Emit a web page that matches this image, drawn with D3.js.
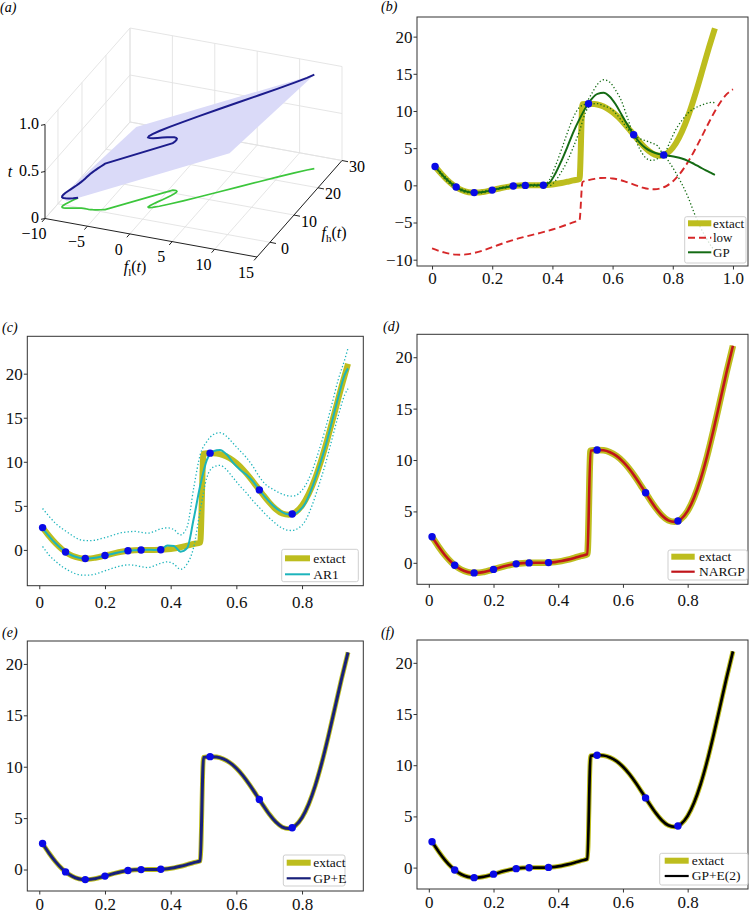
<!DOCTYPE html>
<html><head><meta charset="utf-8">
<script src="https://cdn.jsdelivr.net/npm/d3@7"></script>
<style>body{margin:0;background:#fff}svg{display:block}</style>
</head><body>
<svg id="chart" width="756" height="914"></svg>
<script>
// ================= DATA =================
const exactX=[0.01,0.03,0.05,0.07,0.09,0.11,0.13,0.15,0.17,0.19,0.21,0.23,0.25,0.27,0.29,0.31,0.33,0.35,0.37,0.39,0.41,0.43,0.45,0.47,0.49,0.50,0.52,0.54,0.56,0.58,0.60,0.62,0.64,0.66,0.68,0.70,0.72,0.74,0.76,0.78,0.80,0.82,0.84,0.86,0.88,0.90,0.92,0.94];
const exactY=[2.533,1.583,0.738,0.046,-0.469,-0.800,-0.961,-0.978,-0.888,-0.731,-0.545,-0.364,-0.210,-0.100,-0.034,-0.005,0.000,0.002,0.021,0.073,0.168,0.308,0.483,0.671,0.842,10.909,10.984,10.945,10.757,10.396,9.851,9.130,8.264,7.302,6.318,5.394,4.631,4.130,3.984,4.273,5.051,6.350,8.136,10.367,12.940,15.712,18.506,21.122];

const lowX=[0,0.02,0.04,0.06,0.08,0.10,0.12,0.14,0.16,0.18,0.20,0.22,0.24,0.26,0.28,0.30,0.32,0.34,0.36,0.38,0.40,0.42,0.44,0.46,0.48,0.49,0.50,0.52,0.54,0.56,0.58,0.60,0.62,0.64,0.66,0.68,0.70,0.72,0.74,0.76,0.78,0.80,0.82,0.84,0.86,0.88,0.90,0.92,0.94,0.96,0.98,1.00];
const lowY=[-8.486,-8.775,-9.028,-9.214,-9.317,-9.329,-9.250,-9.092,-8.872,-8.608,-8.320,-8.026,-7.741,-7.475,-7.231,-7.008,-6.800,-6.600,-6.396,-6.179,-5.942,-5.683,-5.404,-5.111,-4.819,-4.679,0.455,0.692,0.873,0.979,0.998,0.925,0.765,0.532,0.251,-0.041,-0.303,-0.485,-0.535,-0.408,-0.064,0.525,1.375,2.468,3.784,5.270,6.856,8.453,9.961,11.278,12.294,12.915];
const highOnLowX=[3.027,2.049,1.144,0.371,-0.234,-0.657,-0.900,-0.984,-0.944,-0.816,-0.640,-0.452,-0.282,-0.149,-0.061,-0.016,-0.001,0.000,0.008,0.042,0.115,0.233,0.392,0.577,0.761,0.842,10.909,10.984,10.945,10.757,10.396,9.851,9.130,8.264,7.302,6.318,5.394,4.631,4.130,3.984,4.273,5.051,6.350,8.136,10.367,12.940,15.712,18.506,21.122,23.356,24.988,25.830];

const sampleX=[0.01,0.08,0.14,0.20,0.27,0.31,0.37,0.52,0.67,0.77];
const sampleY=[2.53,-0.23,-0.98,-0.64,-0.10,-0.01,0.02,10.98,6.81,4.07];

const gpX=[0.01,0.03,0.05,0.07,0.09,0.11,0.13,0.15,0.17,0.19,0.21,0.23,0.25,0.27,0.29,0.31,0.33,0.35,0.37,0.39,0.41,0.43,0.45,0.47,0.49,0.51,0.53,0.55,0.57,0.59,0.61,0.63,0.65,0.67,0.69,0.71,0.73,0.75,0.77,0.79,0.81,0.83,0.85,0.87,0.89,0.91,0.93,0.94];
const gpMean=[2.533,1.583,0.738,0.046,-0.469,-0.800,-0.961,-0.978,-0.888,-0.731,-0.545,-0.364,-0.210,-0.100,-0.034,-0.005,0.000,0.002,0.021,0.35,1.6,3.3,5.2,7.2,8.9,10.4,11.6,12.3,12.45,11.95,10.9,9.5,8.1,6.8,5.75,5.0,4.55,4.25,4.08,3.95,3.8,3.6,3.3,2.9,2.45,2.0,1.6,1.4];
const gpUpper=[2.6,1.75,0.95,0.25,-0.3,-0.65,-0.88,-0.9,-0.78,-0.62,-0.45,-0.27,-0.12,-0.03,0.04,0.05,0.1,0.12,0.06,0.75,2.6,4.8,7.1,9.2,10.5,11.0,12.3,13.6,14.2,13.9,12.8,11.3,9.0,6.9,6.3,6.0,5.7,5.3,4.2,5.8,7.5,8.7,9.7,10.3,10.7,11.0,11.15,11.1];
const gpLower=[2.47,1.4,0.52,-0.16,-0.64,-0.95,-1.04,-1.06,-1.0,-0.84,-0.64,-0.46,-0.3,-0.17,-0.11,-0.06,-0.1,-0.11,-0.02,-0.05,0.6,1.8,3.3,5.2,7.3,9.8,10.9,11.0,10.7,10.4,9.7,8.7,7.6,6.7,4.9,3.7,3.35,3.6,4.0,3.0,1.7,0.2,-1.5,-3.6,-5.5,-7.0,-8.3,-8.8];

const ar1Mean=[2.45,1.55,0.72,0.05,-0.45,-0.78,-0.95,-0.98,-0.9,-0.74,-0.56,-0.38,-0.22,-0.1,-0.03,0.0,0.02,0.0,0.05,0.5,0.45,-0.2,0.2,3.5,7.3,10.2,11.2,11.35,10.85,9.9,9.15,8.55,7.8,6.8,5.9,5.1,4.5,4.1,4.0,4.4,5.3,7.0,9.2,11.6,14.4,17.3,19.9,20.6];
const ar1Upper=[4.7,3.8,3.0,2.4,1.9,1.4,1.1,1.05,1.1,1.3,1.5,1.75,1.95,2.05,2.1,2.0,1.9,2.1,2.4,2.5,2.3,1.7,2.6,7.0,10.8,12.3,13.1,13.3,12.9,12.1,11.3,10.5,9.5,8.3,7.4,6.9,6.5,6.2,6.1,6.4,7.3,8.9,11.1,13.6,16.4,19.3,21.6,22.9];
const ar1Lower=[0.4,-0.6,-1.3,-1.9,-2.35,-2.7,-2.85,-2.85,-2.75,-2.5,-2.25,-2.0,-1.8,-1.7,-1.75,-1.9,-2.0,-1.8,-1.5,-1.35,-1.6,-2.2,-1.6,0.3,4.5,8.2,9.4,9.6,9.1,8.2,7.3,6.5,5.6,4.8,4.0,3.3,2.7,2.3,2.2,2.5,3.3,5.0,7.2,9.6,12.4,15.2,17.6,18.3];

const nargpY=[2.53,1.58,0.74,0.05,-0.47,-0.80,-0.96,-0.98,-0.89,-0.73,-0.55,-0.36,-0.21,-0.10,-0.03,-0.01,0.00,0.00,0.02,0.07,0.17,0.31,0.48,0.67,0.84,10.91,10.98,10.95,10.76,10.40,9.85,9.13,8.26,7.30,6.32,5.39,4.63,4.13,3.98,4.27,5.05,6.35,8.14,10.37,12.94,15.71,18.51,21.12];
const gpeY=[2.53,1.58,0.74,0.05,-0.47,-0.80,-0.96,-0.98,-0.89,-0.73,-0.55,-0.36,-0.21,-0.10,-0.03,-0.01,0.00,0.00,0.02,0.07,0.17,0.31,0.48,0.67,0.84,10.91,10.98,10.95,10.76,10.40,9.85,9.13,8.26,7.30,6.32,5.39,4.63,4.13,3.98,4.27,5.05,6.35,8.14,10.37,12.94,15.71,18.51,21.12];
const gpe2Y=[2.53,1.58,0.74,0.05,-0.47,-0.80,-0.96,-0.98,-0.89,-0.73,-0.55,-0.36,-0.21,-0.10,-0.03,-0.01,0.00,0.00,0.02,0.07,0.17,0.31,0.48,0.67,0.84,10.91,10.98,10.95,10.76,10.40,9.85,9.13,8.26,7.30,6.32,5.39,4.63,4.13,3.98,4.27,5.05,6.35,8.14,10.37,12.94,15.71,18.51,21.12];

// plane patch (f_l, f_h, t) corners
const planePatch=[[-9.33,1.34,0],[2.92,25.83,0],[12.92,25.83,1],[-0.49,-0.98,1],[-9.33,-0.98,0.116]];

const fLTicks=[-10,-5,0,5,10,15];
const fHTicks=[0,10,20,30];
const tTicks=[0,0.5,1.0];
const xTicksB=[0,0.2,0.4,0.6,0.8,1.0];
const xTicks=[0,0.2,0.4,0.6,0.8];
const yTicksB=[-10,-5,0,5,10,15,20];
const yTicks=[0,5,10,15,20];

// ================= STYLE / LAYOUT =================
const FONT='"Liberation Serif","Times New Roman",Times,serif';
const C={exact:"#bdbd1e",low:"#d62728",gp:"#146b14",ar1:"#1cb4bc",nargp:"#c0141a",gpe:"#18207a",gpe2:"#000000",pt:"#0a0ae6",blue3d:"#1c1c8c",green3d:"#3cc63c",plane:"#dadaf8",grid:"#e2e2e2"};

const svg=d3.select("#chart");
const defs=svg.append("defs");
const pts=(xs,ys)=>xs.map((v,i)=>[v,ys[i]]);

function letter(x,y,ch){
  svg.append("text").attr("x",x).attr("y",y).attr("font-family",FONT).attr("font-size",14).attr("font-style","italic").text("("+ch+")");
}

// ================= PANEL (a): 3D =================
(function(){
  const g=svg.append("g");
  const O=[45,218.5], EX=[212,38.5], EY=[85,-96.5], EZ=[0,-94];
  const sx=d3.scaleLinear().domain([-10,15]).range([0,1]);
  const sy=d3.scaleLinear().domain([-5.4,30]).range([0,1]);
  const sz=d3.scaleLinear().domain([0,1]).range([0,1]);
  const P=(x,y,z)=>{const u=sx(x),v=sy(y),w=sz(z);return [O[0]+u*EX[0]+v*EY[0]+w*EZ[0],O[1]+u*EX[1]+v*EY[1]+w*EZ[1]];};
  const [x0,x1]=sx.domain(),[y0,y1]=sy.domain(),[z0,z1]=sz.domain();
  const seg=(a,b,col,w)=>g.append("line").attr("x1",a[0]).attr("y1",a[1]).attr("x2",b[0]).attr("y2",b[1]).attr("stroke",col).attr("stroke-width",w);
  // grids
  fLTicks.forEach(v=>{seg(P(v,y1,z0),P(v,y1,z1),C.grid,0.9);seg(P(v,y0,z0),P(v,y1,z0),C.grid,0.9);});
  fHTicks.forEach(v=>{seg(P(x0,v,z0),P(x0,v,z1),C.grid,0.9);seg(P(x0,v,z0),P(x1,v,z0),C.grid,0.9);});
  tTicks.forEach(v=>{seg(P(x0,y1,v),P(x1,y1,v),C.grid,0.9);seg(P(x0,y0,v),P(x0,y1,v),C.grid,0.9);});
  // plane
  g.append("path").attr("d",d3.line()(planePatch.map(p=>P(p[0],p[1],p[2])))+"Z").attr("fill",C.plane).attr("stroke","none");
  // curves
  const green=lowX.map((t,i)=>P(lowY[i],highOnLowX[i],0));
  const blue=lowX.map((t,i)=>P(lowY[i],highOnLowX[i],t));
  g.append("path").attr("d",d3.line()(green)).attr("fill","none").attr("stroke",C.green3d).attr("stroke-width",1.7);
  g.append("path").attr("d",d3.line()(blue)).attr("fill","none").attr("stroke",C.blue3d).attr("stroke-width",2);
  // axes
  seg(P(x0,y0,z0),P(x1,y0,z0),"#222",1);
  seg(P(x1,y0,z0),P(x1,y1,z0),"#222",1);
  seg(P(x0,y0,z0),P(x0,y0,z1),"#222",1);
  fLTicks.forEach(v=>{const p=P(v,y0,z0);seg(p,[p[0]-3,p[1]+3.4],"#222",1);
    g.append("text").attr("x",p[0]-11).attr("y",p[1]+15).attr("dy","0.35em").attr("text-anchor","middle").attr("font-family",FONT).attr("font-size",16).text(d3.format("")(v).replace("-","\u2212"));});
  fHTicks.forEach(v=>{const p=P(x1,v,z0);seg(p,[p[0]+6,p[1]+1.2],"#222",1);
    g.append("text").attr("x",p[0]+15).attr("y",p[1]+6).attr("dy","0.35em").attr("text-anchor","middle").attr("font-family",FONT).attr("font-size",16).text(v);});
  tTicks.forEach(v=>{const p=P(x0,y0,v);seg(p,[p[0]-4,p[1]+0.8],"#222",1);
    g.append("text").attr("x",p[0]-6).attr("y",p[1]-1).attr("dy","0.35em").attr("text-anchor","end").attr("font-family",FONT).attr("font-size",16).text(v===0?"0":d3.format(".1f")(v));});
  // axis labels
  g.append("text").attr("x",10).attr("y",177).attr("text-anchor","middle").attr("font-family",FONT).attr("font-size",16).attr("font-style","italic").text("t");
  function fLabel(x,y,sub){
    const t=g.append("text").attr("x",x).attr("y",y).attr("text-anchor","middle").attr("font-family",FONT).attr("font-size",16);
    t.append("tspan").attr("font-style","italic").text("f");
    t.append("tspan").attr("font-size",11).attr("dy",3.5).text(sub);
    t.append("tspan").attr("dy",-3.5).text("(");
    t.append("tspan").attr("font-style","italic").text("t");
    t.append("tspan").text(")");
  }
  fLabel(135,272,"l");
  fLabel(334,238,"h");
  letter(0,12,"a");
})();

// ================= 2D PANELS =================
function make2D(cfg){
  const x=d3.scaleLinear().domain(cfg.xd).range([cfg.l,cfg.r]);
  const y=d3.scaleLinear().domain(cfg.yd).range([cfg.b,cfg.t]);
  const g=svg.append("g");
  const cid="clip-"+cfg.id;
  defs.append("clipPath").attr("id",cid).append("rect").attr("x",cfg.l).attr("y",cfg.t).attr("width",cfg.r-cfg.l).attr("height",cfg.b-cfg.t);
  const plot=g.append("g").attr("clip-path",`url(#${cid})`);
  const xf=d=>d===0?"0":d3.format(".1f")(d);
  const ax=g.append("g").attr("transform",`translate(0,${cfg.b})`).call(d3.axisBottom(x).tickValues(cfg.xt).tickSize(3.5).tickPadding(cfg.xpad).tickFormat(xf));
  const ay=g.append("g").attr("transform",`translate(${cfg.l},0)`).call(d3.axisLeft(y).tickValues(cfg.yt).tickSize(3.5).tickPadding(1).tickFormat(d3.format("d")));
  [ax,ay].forEach(a=>{a.select(".domain").remove();a.selectAll("line").attr("stroke","#333");a.selectAll("text").attr("font-family",FONT).attr("font-size",17).attr("fill","#111");});
  const top=g.append("g");
  top.append("rect").attr("x",cfg.l).attr("y",cfg.t).attr("width",cfg.r-cfg.l).attr("height",cfg.b-cfg.t).attr("fill","none").attr("stroke","#333").attr("stroke-width",1);
  letter(cfg.lx,cfg.ly,cfg.id);
  const ln=d3.line().x(d=>x(d[0])).y(d=>y(d[1])).curve(d3.curveMonotoneX);
  const api={
    line(xs,ys,col,w,dash){plot.append("path").attr("d",ln(pts(xs,ys))).attr("fill","none").attr("stroke",col).attr("stroke-width",w).attr("stroke-dasharray",dash||null).attr("stroke-linejoin","round");},
    dots(){plot.selectAll(null).data(pts(sampleX,sampleY)).enter().append("circle").attr("cx",d=>x(d[0])).attr("cy",d=>y(d[1])).attr("r",3.7).attr("fill",C.pt);},
    legend(box,hx,tx,rows,items,fs){
      const lg=top.append("g");
      lg.append("rect").attr("x",box[0]).attr("y",box[2]).attr("width",box[1]-box[0]).attr("height",box[3]-box[2]).attr("rx",2).attr("fill","#fff").attr("fill-opacity",0.8).attr("stroke","#cfcfcf").attr("stroke-width",1);
      items.forEach((it,i)=>{
        lg.append("line").attr("x1",hx[0]).attr("x2",hx[1]).attr("y1",rows[i]).attr("y2",rows[i]).attr("stroke",it.c).attr("stroke-width",it.w).attr("stroke-dasharray",it.d||null);
        lg.append("text").attr("x",tx).attr("y",rows[i]).attr("dy","0.33em").attr("font-family",FONT).attr("font-size",fs).attr("fill","#111").text(it.t);
      });
    }
  };
  return api;
}

const xdCF=[-0.0365,0.9865];
// (b)
(function(){
  const p=make2D({id:"b",l:417,r:748,t:17,b:266,xd:[-0.05,1.05],yd:[-10.85,22.64],xt:xTicksB,yt:yTicksB,xpad:2.5,lx:381,ly:11});
  p.line(exactX,exactY,C.exact,6);
  p.line(lowX,lowY,C.low,1.9,"7,4");
  p.line(gpX,gpMean,C.gp,2);
  p.line(gpX,gpUpper,C.gp,1.3,"1.3,2.2");
  p.line(gpX,gpLower,C.gp,1.3,"1.3,2.2");
  p.dots();
  p.legend([684.7,746,216.7,263],[688,711.3],713,[223.3,237.7,252.3],[{t:"extact",c:C.exact,w:6},{t:"low",c:C.low,w:1.9,d:"7,4"},{t:"GP",c:C.gp,w:2}],13);
})();
// (c)
(function(){
  const p=make2D({id:"c",l:27.3,r:363.3,t:336.3,b:585.7,xd:xdCF,yd:[-4.06,24.24],xt:xTicks,yt:yTicks,xpad:6.5,lx:2,ly:332});
  p.line(exactX,exactY,C.exact,6);
  p.line(gpX,ar1Mean,C.ar1,2);
  p.line(gpX,ar1Upper,C.ar1,1.3,"1.3,2.2");
  p.line(gpX,ar1Lower,C.ar1,1.3,"1.3,2.2");
  p.dots();
  p.legend([281.7,358.3,549.3,581.7],[285,310],313.3,[558.3,574.3],[{t:"extact",c:C.exact,w:6},{t:"AR1",c:C.ar1,w:2}],13.5);
})();
// (d)
(function(){
  const p=make2D({id:"d",l:417,r:748,t:334.3,b:584.3,xd:xdCF,yd:[-2.09,22.23],xt:xTicks,yt:yTicks,xpad:6.5,lx:383,ly:331});
  p.line(exactX,exactY,C.exact,6.5);
  p.line(exactX,nargpY,C.nargp,2.6);
  p.dots();
  p.legend([668,747.3,550,580],[671.3,694.7],699,[556.7,571.7],[{t:"extact",c:C.exact,w:6},{t:"NARGP",c:C.nargp,w:2.2}],13.5);
})();
// (e)
(function(){
  const p=make2D({id:"e",l:27.3,r:363.3,t:641,b:891,xd:xdCF,yd:[-2.09,22.23],xt:xTicks,yt:yTicks,xpad:3.5,lx:2,ly:637});
  p.line(exactX,exactY,C.exact,4.8);
  p.line(exactX,gpeY,C.gpe,3);
  p.dots();
  p.legend([283.3,345,855,886],[286.7,310.7],313.3,[862.7,878.3],[{t:"extact",c:C.exact,w:6},{t:"GP+E",c:C.gpe,w:2.2}],13.5);
})();
// (f)
(function(){
  const p=make2D({id:"f",l:417,r:748,t:640,b:889,xd:xdCF,yd:[-2.09,22.23],xt:xTicks,yt:yTicks,xpad:3.5,lx:381,ly:637});
  p.line(exactX,exactY,C.exact,4.8);
  p.line(exactX,gpe2Y,C.gpe2,2.7);
  p.dots();
  p.legend([659.7,748,853.3,885],[664.7,688.7],691.7,[860.7,876],[{t:"extact",c:C.exact,w:6},{t:"GP+E(2)",c:C.gpe2,w:2.2}],13.5);
})();
</script>
</body></html>
